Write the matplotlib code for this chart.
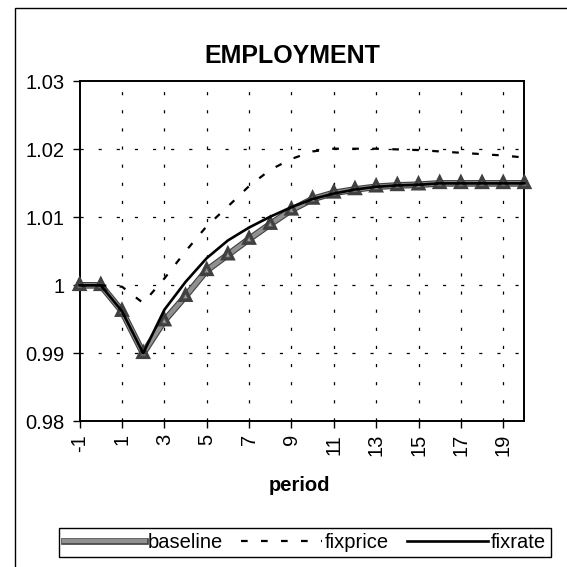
import matplotlib
matplotlib.use('Agg')
import matplotlib.pyplot as plt
import matplotlib.patheffects as pe
from matplotlib.patches import Rectangle

# data
period = list(range(-1, 21))
baseline = [1.0, 1.0, 0.9962, 0.9900, 0.9948, 0.9984, 1.0022, 1.0045, 1.0068, 1.0090,
            1.0111, 1.0127, 1.0136, 1.0141, 1.0145, 1.0147, 1.0148, 1.0150, 1.0150,
            1.0150, 1.0150, 1.0150]
fixprice = [1.0, 1.0, 0.9998, 0.9974, 1.0010, 1.0050, 1.0087, 1.0116, 1.0146, 1.0170,
            1.0186, 1.0197, 1.0201, 1.0201, 1.0201, 1.0200, 1.0199, 1.0197, 1.0195,
            1.0193, 1.0191, 1.0188]
fixrate = [1.0, 1.0, 0.9962, 0.9900, 0.9964, 1.0005, 1.0040, 1.0066, 1.0085, 1.0101,
           1.0115, 1.0127, 1.0135, 1.0141, 1.0145, 1.0147, 1.0148, 1.0150, 1.0150,
           1.0150, 1.0150, 1.0150]
xticks = list(range(-1, 20, 2))
yticks = [0.98, 0.99, 1.0, 1.01, 1.02, 1.03]
ylabels = ['0.98', '0.99', '1', '1.01', '1.02', '1.03']

plt.rcParams['font.family'] = ['Liberation Sans', 'DejaVu Sans']

fig = plt.figure(figsize=(5.67, 5.67), dpi=100)
ax = fig.add_axes([0.1404, 0.257, 0.7845, 0.5994])

# gridlines (sparse dashes like the scanned excel chart)
for x in xticks[1:]:
    ax.axvline(x, color='black', lw=0.9, ls=(0, (2.5, 12)), zorder=1)
for y in yticks[1:-1]:
    ax.axhline(y, color='black', lw=0.9, ls=(0, (2.5, 12)), zorder=1)

ax.plot(period, baseline, color='#909090', lw=3.2, marker='^', markersize=3.5,
        markerfacecolor='#a0a0a0', markeredgecolor='#555555', markeredgewidth=0.6,
        path_effects=[pe.Stroke(linewidth=4.8, foreground='#404040'), pe.Normal()],
        label='baseline', zorder=3, clip_on=False)
ax.plot(period, fixprice, color='black', lw=1.6, ls=(0, (3, 6)), label='fixprice',
        zorder=4, clip_on=False)
ax.plot(period, fixrate, color='black', lw=1.9, label='fixrate', zorder=5, clip_on=False)

ax.set_xlim(-1, 20)
ax.set_ylim(0.98, 1.03)
ax.set_xticks(xticks)
ax.set_xticklabels([str(t) for t in xticks], rotation=90, fontsize=14.5)
ax.set_yticks(yticks)
ax.set_yticklabels(ylabels, fontsize=14.5)
ax.tick_params(axis='both', direction='out', length=5, width=1, color='black')
ax.tick_params(axis='x', pad=4)
ax.tick_params(axis='y', pad=6)
for s in ax.spines.values():
    s.set_linewidth(1.4)

fig.text(0.516, 0.901, 'EMPLOYMENT', ha='center', va='center', fontsize=18,
         fontweight='bold')
fig.text(0.529, 0.143, 'period', ha='center', va='center', fontsize=14.5,
         fontweight='bold')

leg = fig.legend(loc='center', bbox_to_anchor=(0.538, 0.044), ncol=3, fontsize=14.5,
                 handlelength=4.0, handletextpad=0.15, columnspacing=0.9,
                 borderpad=0.25, frameon=True, fancybox=False, framealpha=1)
leg.get_frame().set_edgecolor('black')
leg.get_frame().set_linewidth(1)
leg.legend_handles[0].set_marker('')

# outer chart border
fig.patches.append(Rectangle((0.026, -0.1), 1.2, 1.086, transform=fig.transFigure,
                             fill=False, edgecolor='black', lw=1))

fig.savefig('out.png', dpi=100)
